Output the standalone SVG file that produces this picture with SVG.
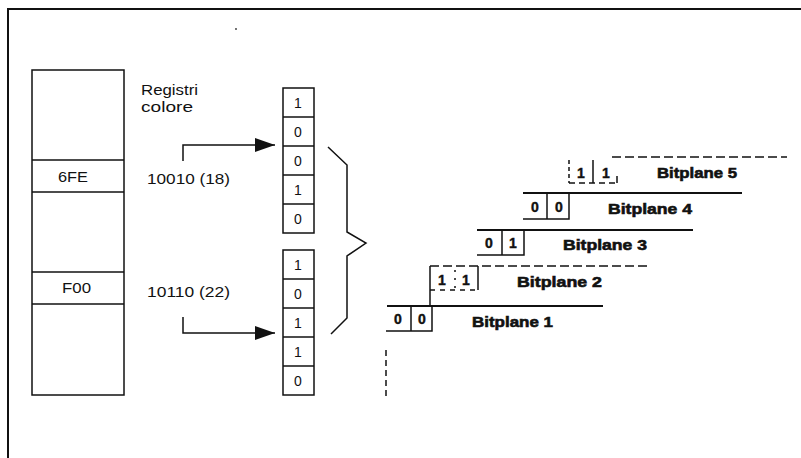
<svg xmlns="http://www.w3.org/2000/svg" width="801" height="458" viewBox="0 0 801 458">
<defs>
<style>
.ln{fill:none;stroke:#111;stroke-width:1.5}
.th{fill:none;stroke:#111;stroke-width:2}
.ds{fill:none;stroke:#111;stroke-width:1.6;stroke-dasharray:9 4}
.cell{fill:#fff;stroke:#111;stroke-width:1.5}
.t{font-family:"Liberation Sans",Arial,sans-serif;font-size:15px;fill:#111}
.d{font-family:"Liberation Sans",Arial,sans-serif;font-size:14px;fill:#111;text-anchor:middle}
.b{font-family:"Liberation Sans",Arial,sans-serif;font-size:15px;font-weight:bold;fill:#111;stroke:#111;stroke-width:0.6}
.bd{font-family:"Liberation Sans",Arial,sans-serif;font-size:14px;font-weight:bold;fill:#111;text-anchor:middle;stroke:#111;stroke-width:0.4}
</style>
<marker id="ah" viewBox="0 0 20 14" refX="20" refY="7" markerWidth="20" markerHeight="14" markerUnits="userSpaceOnUse" orient="auto">
<path d="M0,0 L20,7 L0,14 Z" fill="#111"/>
</marker>
</defs>
<rect width="801" height="458" fill="#fff"/>

<g id="frame">
<path class="th" d="M8,458 L8,9 L801,9"/>
<circle cx="236" cy="29" r="0.9" fill="#333"/>
<circle cx="101" cy="338" r="0.9" fill="#333"/>
</g>

<g id="registers">
<rect class="cell" x="32" y="70" width="92" height="325"/>
<line class="ln" x1="32" y1="160" x2="124" y2="160"/>
<line class="ln" x1="32" y1="192" x2="124" y2="192"/>
<line class="ln" x1="32" y1="272" x2="124" y2="272"/>
<line class="ln" x1="32" y1="304" x2="124" y2="304"/>
<text class="t" x="58" y="182" textLength="30" lengthAdjust="spacingAndGlyphs">6FE</text>
<text class="t" x="62" y="293" textLength="29" lengthAdjust="spacingAndGlyphs">F00</text>
</g>

<g id="label-registri">
<text class="t" x="141" y="95" textLength="57" lengthAdjust="spacingAndGlyphs">Registri</text>
<text class="t" x="141" y="112" textLength="52" lengthAdjust="spacingAndGlyphs">colore</text>
</g>

<g id="value-18">
<text class="t" x="147" y="184" textLength="83" lengthAdjust="spacingAndGlyphs">10010 (18)</text>
</g>
<g id="value-22">
<text class="t" x="147" y="297" textLength="83" lengthAdjust="spacingAndGlyphs">10110 (22)</text>
</g>

<g id="stack-18">
<rect class="cell" x="283" y="88" width="31" height="145"/>
<line class="ln" x1="283" y1="117" x2="314" y2="117"/>
<line class="ln" x1="283" y1="146" x2="314" y2="146"/>
<line class="ln" x1="283" y1="175" x2="314" y2="175"/>
<line class="ln" x1="283" y1="204" x2="314" y2="204"/>
<text class="d" x="298" y="108">1</text>
<text class="d" x="298" y="137">0</text>
<text class="d" x="298" y="166">0</text>
<text class="d" x="298" y="195">1</text>
<text class="d" x="298" y="224">0</text>
</g>

<g id="stack-22">
<rect class="cell" x="283" y="250" width="31" height="145"/>
<line class="ln" x1="283" y1="279" x2="314" y2="279"/>
<line class="ln" x1="283" y1="308" x2="314" y2="308"/>
<line class="ln" x1="283" y1="337" x2="314" y2="337"/>
<line class="ln" x1="283" y1="366" x2="314" y2="366"/>
<text class="d" x="298" y="270">1</text>
<text class="d" x="298" y="299">0</text>
<text class="d" x="298" y="328">1</text>
<text class="d" x="298" y="357">1</text>
<text class="d" x="298" y="386">0</text>
</g>

<g id="connectors">
<path class="ln" d="M183,161 L183,145 L275,145" marker-end="url(#ah)"/>
<path class="ln" d="M183,317 L183,333 L275,333" marker-end="url(#ah)"/>
<path class="ln" d="M328,147 L347,165 L347,232 L366,243 L347,256 L347,318 L331,334"/>
</g>

<g id="bitplane-1">
<line class="th" x1="387" y1="306" x2="603" y2="306"/>
<path class="ln" d="M386,331 L432,331 L432,306"/>
<line class="ln" x1="411" y1="306" x2="411" y2="331"/>
<text class="bd" x="398" y="324">0</text>
<text class="bd" x="422" y="324">0</text>
<text class="b" x="472" y="327" textLength="81" lengthAdjust="spacingAndGlyphs">Bitplane 1</text>
<line class="ln" x1="386" y1="350" x2="386" y2="398" stroke-dasharray="6 4"/>
</g>

<g id="bitplane-2">
<line class="ds" x1="430" y1="266" x2="648" y2="266"/>
<line class="ln" x1="430" y1="266" x2="430" y2="306"/>
<line class="ln" x1="478" y1="266" x2="478" y2="290"/>
<line class="ln" x1="430" y1="290" x2="478" y2="290" stroke-dasharray="5 5"/>
<line class="ln" x1="455" y1="270" x2="455" y2="290" stroke-dasharray="2 6"/>
<text class="bd" x="442" y="285">1</text>
<text class="bd" x="466" y="285">1</text>
<text class="b" x="517" y="287" textLength="85" lengthAdjust="spacingAndGlyphs">Bitplane 2</text>
</g>

<g id="bitplane-3">
<line class="th" x1="477" y1="230" x2="693" y2="230"/>
<path class="ln" d="M477,255 L524,255 L524,230"/>
<line class="ln" x1="502" y1="230" x2="502" y2="255"/>
<text class="bd" x="489" y="248">0</text>
<text class="bd" x="513" y="248">1</text>
<text class="b" x="563" y="250" textLength="84" lengthAdjust="spacingAndGlyphs">Bitplane 3</text>
</g>

<g id="bitplane-4">
<line class="th" x1="523" y1="193" x2="742" y2="193"/>
<path class="ln" d="M523,219 L569,219 L569,193"/>
<line class="ln" x1="547" y1="193" x2="547" y2="219"/>
<text class="bd" x="535" y="212">0</text>
<text class="bd" x="559" y="212">0</text>
<text class="b" x="608" y="214" textLength="84" lengthAdjust="spacingAndGlyphs">Bitplane 4</text>
</g>

<g id="bitplane-5">
<line class="ds" x1="612" y1="157" x2="787" y2="157"/>
<line class="ln" x1="569" y1="160" x2="569" y2="183" stroke-dasharray="4 3"/>
<line class="ln" x1="593" y1="160" x2="593" y2="183"/>
<line class="ln" x1="569" y1="183" x2="617" y2="183" stroke-dasharray="6 4"/>
<line class="ln" x1="617" y1="176" x2="617" y2="183"/>
<text class="bd" x="581" y="178">1</text>
<text class="bd" x="606" y="178">1</text>
<text class="b" x="657" y="178" textLength="80" lengthAdjust="spacingAndGlyphs">Bitplane 5</text>
</g>
</svg>
